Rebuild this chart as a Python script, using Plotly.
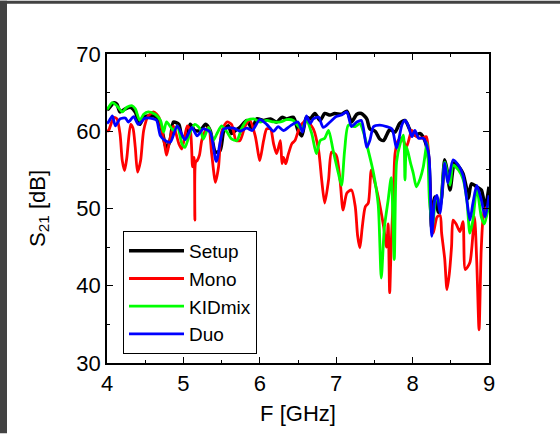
import plotly.graph_objects as go

# Transmission S21 spectra for the four configurations
setup_f = [4.00, 4.02, 4.09, 4.13, 4.17, 4.24, 4.31, 4.37, 4.43, 4.48, 4.57, 4.65, 4.70, 4.74,
           4.78, 4.83, 4.87, 4.94, 4.98, 5.04, 5.09, 5.15, 5.22, 5.29, 5.35, 5.42, 5.48, 5.53,
           5.59, 5.63, 5.68, 5.74, 5.83, 5.90, 5.96, 6.05, 6.14, 6.22, 6.29, 6.35, 6.44, 6.50,
           6.55, 6.61, 6.66, 6.72, 6.79, 6.85, 6.92, 6.98, 7.07, 7.14, 7.20, 7.27, 7.33, 7.40,
           7.44, 7.51, 7.57, 7.62, 7.66, 7.70, 7.77, 7.83, 7.90, 7.97, 8.03, 8.10, 8.16, 8.21,
           8.25, 8.29, 8.34, 8.38, 8.42, 8.45, 8.49, 8.55, 8.62, 8.66, 8.71, 8.73, 8.77, 8.84,
           8.90, 8.95, 9.00]
setup_db = [62.8, 62.9, 63.7, 63.5, 62.5, 62.9, 63.1, 62.5, 60.9, 61.8, 62.0, 61.8, 60.9, 59.2,
            57.7, 59.0, 61.2, 60.9, 59.4, 59.2, 60.9, 60.1, 60.1, 60.9, 60.1, 57.3, 57.5, 60.1,
            60.7, 59.7, 60.1, 60.5, 61.4, 60.3, 61.6, 61.4, 61.6, 61.2, 61.8, 61.6, 61.8, 60.1,
            59.4, 61.8, 61.6, 62.3, 61.4, 62.3, 62.1, 62.3, 62.2, 62.6, 61.2, 62.2, 62.3, 61.6,
            60.3, 60.0, 59.0, 58.8, 59.5, 60.2, 59.9, 61.0, 61.4, 60.1, 59.5, 59.7, 58.8, 56.5,
            47.5, 51.5, 49.5, 51.5, 56.3, 55.0, 52.4, 56.0, 55.2, 54.5, 52.4, 51.3, 53.2, 52.8,
            52.4, 50.2, 52.8]

mono_f = [4.00, 4.02, 4.09, 4.13, 4.17, 4.20, 4.23, 4.26, 4.31, 4.34, 4.37, 4.40, 4.44, 4.48,
          4.54, 4.61, 4.68, 4.72, 4.76, 4.78, 4.82, 4.87, 4.94, 4.98, 5.05, 5.09, 5.12, 5.14,
          5.15, 5.16, 5.18, 5.21, 5.24, 5.29, 5.33, 5.37, 5.42, 5.46, 5.50, 5.57, 5.63, 5.69,
          5.74, 5.81, 5.87, 5.94, 5.98, 6.00, 6.05, 6.09, 6.14, 6.18, 6.22, 6.27, 6.29, 6.31,
          6.34, 6.37, 6.42, 6.46, 6.53, 6.61, 6.70, 6.77, 6.81, 6.85, 6.90, 6.94, 7.00, 7.05,
          7.09, 7.14, 7.20, 7.25, 7.28, 7.31, 7.34, 7.38, 7.42, 7.46, 7.51, 7.55, 7.62, 7.66,
          7.68, 7.70, 7.72, 7.75, 7.77, 7.81, 7.86, 7.92, 7.99, 8.05, 8.12, 8.18, 8.23, 8.27,
          8.32, 8.36, 8.38, 8.42, 8.45, 8.48, 8.51, 8.53, 8.57, 8.62, 8.66, 8.69, 8.75, 8.81,
          8.84, 8.87, 8.90, 8.94, 9.00]
mono_db = [60.0, 60.1, 61.8, 61.6, 59.7, 56.2, 54.9, 56.6, 60.9, 60.4, 57.9, 54.7, 56.2, 60.1,
           62.0, 62.5, 61.8, 60.1, 57.9, 56.9, 58.8, 60.7, 58.4, 57.7, 60.7, 60.1, 55.4, 56.6,
           48.5, 56.0, 56.2, 56.9, 58.8, 60.1, 60.5, 57.1, 53.4, 55.4, 59.9, 61.2, 60.9, 58.8,
           58.8, 60.7, 61.4, 59.4, 57.1, 56.2, 58.8, 60.3, 60.3, 58.4, 57.1, 58.8, 55.8, 56.6,
           55.8, 56.9, 58.4, 58.8, 60.7, 61.4, 60.3, 57.5, 53.7, 50.7, 53.7, 57.3, 56.9, 53.7,
           49.8, 52.0, 52.4, 50.2, 46.5, 44.9, 47.5, 50.2, 50.7, 55.0, 53.2, 51.5, 47.7, 45.0,
           48.0, 39.1, 45.5, 52.0, 57.1, 58.8, 59.1, 58.0, 60.1, 59.3, 59.1, 59.3, 52.4, 46.8,
           48.9, 49.1, 46.8, 43.5, 39.5, 41.5, 45.1, 48.5, 48.0, 47.0, 48.3, 42.1, 43.0, 48.9,
           43.0, 34.3, 45.1, 49.8, 50.4]

kidmix_f = [4.00, 4.02, 4.07, 4.13, 4.20, 4.26, 4.33, 4.37, 4.43, 4.48, 4.54, 4.63, 4.70, 4.74,
            4.78, 4.87, 4.92, 4.98, 5.02, 5.09, 5.15, 5.22, 5.26, 5.33, 5.39, 5.44, 5.50, 5.57,
            5.63, 5.70, 5.76, 5.83, 5.92, 6.00, 6.09, 6.18, 6.27, 6.35, 6.44, 6.50, 6.55, 6.61,
            6.68, 6.74, 6.79, 6.85, 6.90, 6.96, 7.03, 7.07, 7.11, 7.16, 7.25, 7.31, 7.35, 7.42,
            7.49, 7.55, 7.59, 7.63, 7.68, 7.72, 7.76, 7.79, 7.84, 7.88, 7.90, 7.92, 7.97, 8.01,
            8.05, 8.10, 8.14, 8.19, 8.22, 8.26, 8.31, 8.36, 8.42, 8.49, 8.53, 8.60, 8.66, 8.71,
            8.75, 8.79, 8.84, 8.90, 8.94, 9.00]
kidmix_db = [62.8, 63.1, 63.7, 63.3, 62.5, 63.1, 63.3, 62.9, 61.4, 62.2, 62.5, 62.2, 61.4, 59.9,
             61.2, 60.1, 60.7, 58.4, 57.9, 59.9, 60.9, 60.3, 59.0, 60.5, 58.8, 59.7, 60.7, 59.9,
             59.0, 58.8, 60.3, 61.4, 61.6, 61.2, 61.4, 61.2, 61.2, 61.5, 61.4, 60.7, 60.3, 61.4,
             59.7, 57.1, 58.8, 59.1, 60.1, 57.5, 54.5, 53.0, 57.5, 60.8, 60.6, 61.0, 60.1, 57.5,
             54.5, 50.5, 41.0, 47.5, 51.1, 54.0, 43.4, 56.0, 58.5, 59.5, 53.7, 58.0, 56.0, 54.5,
             52.8, 53.9, 55.4, 58.5, 51.1, 47.7, 51.5, 50.5, 56.0, 53.0, 55.6, 55.0, 53.8, 51.1,
             46.8, 48.5, 52.7, 48.9, 48.0, 50.6]

duo_f = [4.00, 4.02, 4.07, 4.11, 4.17, 4.24, 4.28, 4.35, 4.41, 4.50, 4.61, 4.65, 4.70, 4.76,
         4.83, 4.92, 5.02, 5.11, 5.18, 5.26, 5.35, 5.43, 5.53, 5.66, 5.74, 5.83, 5.90, 6.00,
         6.09, 6.18, 6.24, 6.31, 6.40, 6.50, 6.56, 6.61, 6.66, 6.70, 6.77, 6.83, 6.92, 7.00,
         7.07, 7.14, 7.20, 7.27, 7.33, 7.40, 7.44, 7.49, 7.57, 7.66, 7.73, 7.79, 7.86, 7.90,
         7.94, 7.99, 8.03, 8.08, 8.14, 8.21, 8.25, 8.29, 8.32, 8.36, 8.42, 8.46, 8.53, 8.60,
         8.66, 8.71, 8.75, 8.79, 8.84, 8.90, 8.95, 9.00]
duo_db = [61.0, 61.2, 62.0, 60.7, 61.6, 61.7, 61.2, 61.9, 60.9, 61.7, 61.6, 61.4, 59.4, 58.8,
          58.6, 60.7, 58.9, 60.5, 59.4, 60.3, 59.9, 56.1, 60.3, 60.4, 60.0, 60.4, 60.1, 61.5,
          60.9, 60.0, 60.6, 60.1, 60.7, 61.2, 59.9, 62.0, 61.0, 61.6, 61.8, 60.5, 61.2, 61.9,
          62.1, 62.5, 60.6, 61.2, 61.4, 57.9, 58.8, 60.6, 60.8, 60.6, 60.3, 57.8, 60.8, 61.4,
          60.8, 59.3, 60.1, 59.1, 59.1, 57.1, 46.4, 51.1, 51.7, 49.4, 55.9, 53.3, 56.3, 55.6,
          54.3, 51.1, 48.5, 50.7, 53.0, 51.1, 48.9, 51.7]

x_ticks = [4, 5, 6, 7, 8, 9]
y_ticks = [30, 40, 50, 60, 70]

series = [
    ("Setup", setup_f, setup_db, "#000000", 3.5),
    ("Mono", mono_f, mono_db, "#ff0000", 2.8),
    ("KIDmix", kidmix_f, kidmix_db, "#00ff00", 2.8),
    ("Duo", duo_f, duo_db, "#0000ff", 2.8),
]

W, H = 560, 434
ML, MR, MT, MB = 107, 71, 53.5, 70.5
PW, PH = W - ML - MR, H - MT - MB

fig = go.Figure()
for name, f, s21, color, lw in series:
    fig.add_trace(go.Scatter(
        x=f, y=s21, mode="lines", name=name,
        line=dict(color=color, width=lw, shape="spline", smoothing=0.7),
    ))

font_family = "Liberation Sans, Arial, sans-serif"
axis_common = dict(
    showline=True, linecolor="black", linewidth=1.5, mirror="ticks",
    ticks="inside", ticklen=6, tickwidth=1.2, tickcolor="black",
    showgrid=False, zeroline=False,
    tickfont=dict(family=font_family, size=22, color="black"),
)

fig.update_xaxes(
    range=[4, 9], tickvals=x_ticks, ticktext=[str(v) for v in x_ticks],
    minor=dict(dtick=0.5, ticks="inside", ticklen=3, tickcolor="black", tickwidth=1.2),
    title=dict(text="F [GHz]", font=dict(family=font_family, size=22, color="black"), standoff=10),
    **axis_common,
)
fig.update_yaxes(
    range=[30, 70], tickvals=y_ticks, ticktext=[str(v) for v in y_ticks],
    minor=dict(dtick=5, ticks="inside", ticklen=3, tickcolor="black", tickwidth=1.2),
    title=dict(text="S<sub>21</sub> [dB]", font=dict(family=font_family, size=22, color="black"), standoff=25),
    **axis_common,
)

# dark frame strips along the top and left edges of the page
px_to_x = lambda p: (p - ML) / PW
px_to_y = lambda p: (H - MB - p) / PH
frame = "#424242"
fig.add_shape(type="rect", xref="paper", yref="paper", layer="above",
              x0=px_to_x(0), x1=px_to_x(7), y0=px_to_y(H), y1=px_to_y(0),
              line=dict(width=0), fillcolor=frame)
fig.add_shape(type="rect", xref="paper", yref="paper", layer="above",
              x0=px_to_x(0), x1=px_to_x(W), y0=px_to_y(3), y1=px_to_y(0),
              line=dict(width=0), fillcolor=frame)

fig.update_layout(
    width=W, height=H,
    margin=dict(l=ML, r=MR, t=MT, b=MB, autoexpand=False),
    paper_bgcolor="white", plot_bgcolor="white",
    showlegend=True,
    legend=dict(
        x=px_to_x(123), y=px_to_y(231), xanchor="left", yanchor="top",
        bgcolor="white", bordercolor="black", borderwidth=1,
        font=dict(family=font_family, size=19, color="black"),
        itemwidth=55,
    ),
)

fig.write_html("out.html")
